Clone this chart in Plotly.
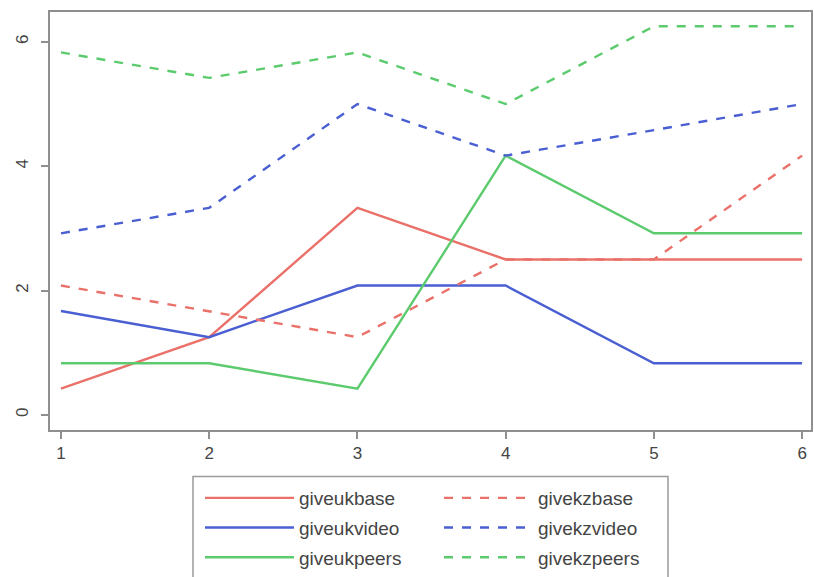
import plotly.graph_objects as go

# period index on the x axis
periods = [1, 2, 3, 4, 5, 6]

giveukbase = [0.42, 1.25, 3.33, 2.5, 2.5, 2.5]
giveukvideo = [1.67, 1.25, 2.08, 2.08, 0.83, 0.83]
giveukpeers = [0.83, 0.83, 0.42, 4.17, 2.92, 2.92]
givekzbase = [2.08, 1.67, 1.25, 2.5, 2.5, 4.17]
givekzvideo = [2.92, 3.33, 5.0, 4.17, 4.58, 5.0]
givekzpeers = [5.83, 5.42, 5.83, 5.0, 6.25, 6.25]

red = '#ea7169'
blue = '#4a5fd2'
green = '#5ccb6e'

series = [
    ('giveukbase', giveukbase, red, 'solid', 'legend'),
    ('giveukvideo', giveukvideo, blue, 'solid', 'legend'),
    ('giveukpeers', giveukpeers, green, 'solid', 'legend'),
    ('givekzbase', givekzbase, red, 'dash', 'legend2'),
    ('givekzvideo', givekzvideo, blue, 'dash', 'legend2'),
    ('givekzpeers', givekzpeers, green, 'dash', 'legend2'),
]

fig = go.Figure()
for name, vals, col, dash, leg in series:
    fig.add_trace(go.Scatter(x=periods, y=vals, mode='lines', name=name,
                             line=dict(color=col, width=2.4, dash=dash),
                             legend=leg, legendgroup=name))

font = dict(family='Liberation Sans, Arial', size=17, color='#444444')
axis_style = dict(showline=True, linecolor='#8f8f8f', linewidth=2, mirror=True,
                  ticks='outside', ticklen=7, tickcolor='#8f8f8f', tickwidth=1.5,
                  showgrid=False, zeroline=False, tickfont=font)

# plot area: x 50..811 px, y 12..432 px; legend lives in the paper below it
W, H = 814 - 50 - 3, 577 - 12
px = lambda x: (x - 50) / W
py = lambda y: (577 - y) / H

leg_style = dict(xanchor='left', yanchor='top', y=py(481.5),
                 bgcolor='rgba(0,0,0,0)', itemwidth=89, tracegroupgap=2,
                 font=dict(family='Liberation Sans, Arial', size=19, color='#444444'))

fig.update_layout(
    width=814, height=577,
    margin=dict(l=50, r=3, t=12, b=0),
    plot_bgcolor='white', paper_bgcolor='white',
    showlegend=True,
    xaxis=dict(range=[0.926, 6.06], tickvals=periods, **axis_style),
    yaxis=dict(range=[-0.24, 6.48], tickvals=[0, 2, 4, 6], tickangle=-90,
               ticklabelstandoff=6, domain=[py(432), 1], **axis_style),
    legend=dict(x=px(200), **leg_style),
    legend2=dict(x=px(439), **leg_style),
    shapes=[dict(type='rect', xref='paper', yref='paper',
                 x0=px(193), x1=px(668), y0=py(600), y1=py(479),
                 line=dict(color='#9a9a9a', width=1.5))],
)

# drop the default 8px body margin so the 814x577 figure fills the window
fig.write_html('out.html', config={'displayModeBar': False},
               post_script="document.body.style.margin='0';document.body.style.overflow='hidden';")
